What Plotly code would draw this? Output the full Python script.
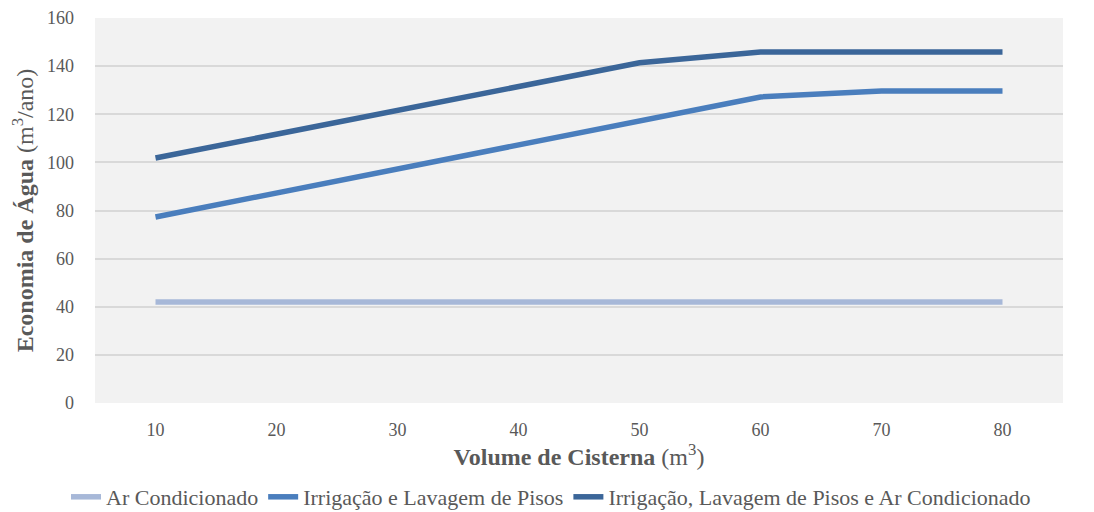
import plotly.graph_objects as go

volumes = ["10", "20", "30", "40", "50", "60", "70", "80"]
ar_condicionado = [42, 42, 42, 42, 42, 42, 42, 42]
irrigacao_lavagem = [77.3, 87.3, 97.3, 107.3, 117.2, 127.2, 129.7, 129.7]
irrigacao_lavagem_ar = [101.8, 111.7, 121.6, 131.5, 141.4, 145.9, 145.9, 145.9]

series = [
    ("Ar Condicionado", ar_condicionado, "#a7b8d8"),
    ("Irrigação e Lavagem de Pisos", irrigacao_lavagem, "#4a7ebd"),
    ("Irrigação, Lavagem de Pisos e Ar Condicionado", irrigacao_lavagem_ar, "#3b6699"),
]

FF = "Liberation Serif, Times New Roman, serif"
txt = "#595959"
W, H = 1086, 504

fig = go.Figure()
for name, vals, col in series:
    fig.add_trace(go.Scatter(
        x=volumes, y=vals, name=name, mode="lines",
        line=dict(color=col, width=5.5),
    ))

fig.update_layout(
    width=W, height=H,
    paper_bgcolor="white", plot_bgcolor="#f2f2f2",
    margin=dict(l=87, r=31, t=10, b=109, autoexpand=False),
    font=dict(family=FF, size=18, color=txt),
    showlegend=True,
    legend=dict(orientation="h", x=0.5, xanchor="center", xref="container",
                y=(H - 489) / H, yanchor="middle", yref="container",
                font=dict(family=FF, size=22, color=txt), traceorder="normal",
                tracegroupgap=0),
)
fig.update_xaxes(
    type="category", range=[-0.5, 7.5], showgrid=False, zeroline=False, showline=False,
    ticks="", tickfont=dict(family=FF, size=18, color=txt), automargin=True, ticklabelstandoff=14,
    title=dict(text="<b>Volume de Cisterna</b> (m<sup>3</sup>)", font=dict(family=FF, size=24, color=txt), standoff=4),
)
fig.update_yaxes(
    range=[0, 160], dtick=20, showgrid=True, gridcolor="#d9d9d9", gridwidth=1.5,
    zeroline=False, showline=False, ticks="", tickfont=dict(family=FF, size=18, color=txt),
    automargin=False, ticklabelstandoff=20,
    title=dict(text="<b>Economia de Água</b> (m<sup>3</sup>/ano)", font=dict(family=FF, size=24, color=txt), standoff=6),
)

fig.write_html("out.html")
